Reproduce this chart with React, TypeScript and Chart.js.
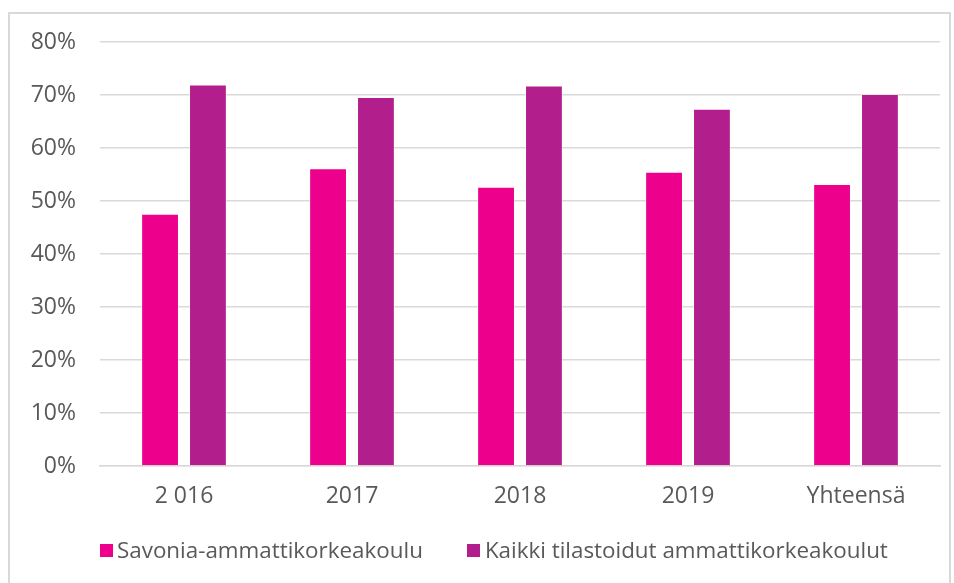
import React, { useEffect, useRef } from "react";
import { Chart, registerables } from "chart.js";

Chart.register(...registerables);

const categories = ["2 016", "2017", "2018", "2019", "Yhteensä"];
const savoniaValues = [47.6, 56.2, 52.7, 55.5, 53.2];
const kaikkiValues = [72.0, 69.6, 71.8, 67.4, 70.2];
const seriesNames = ["Savonia-ammattikorkeakoulu", "Kaikki tilastoidut ammattikorkeakoulut"];
const seriesColors = ["#EC008C", "#B31E8D"];
const yTicks = [0, 10, 20, 30, 40, 50, 60, 70, 80];

const FONT = "'Open Sans'";
const FS = 23;

const frame = {
  id: "frame",
  beforeDraw(chart: any) {
    const ctx = chart.ctx;
    ctx.save();
    ctx.fillStyle = "#ffffff";
    ctx.fillRect(0, 0, chart.width, chart.height);
    ctx.strokeStyle = "#D9D9D9";
    ctx.lineWidth = 2;
    ctx.strokeRect(9, 13, 941, 620);
    ctx.restore();
  },
};

export default function App() {
  const ref = useRef<HTMLCanvasElement>(null);
  useEffect(() => {
    if (!ref.current) return;
    const chart = new Chart(ref.current, {
      type: "bar",
      data: {
        labels: categories,
        datasets: [
          {
            label: seriesNames[0],
            data: savoniaValues,
            backgroundColor: seriesColors[0],
            borderColor: "rgba(255,255,255,0.35)",
            borderWidth: 1,
            categoryPercentage: 0.57,
            barPercentage: 0.79,
          },
          {
            label: seriesNames[1],
            data: kaikkiValues,
            backgroundColor: seriesColors[1],
            borderColor: "rgba(255,255,255,0.35)",
            borderWidth: 1,
            categoryPercentage: 0.57,
            barPercentage: 0.79,
          },
        ],
      },
      plugins: [frame],
      options: {
        animation: false,
        responsive: false,
        devicePixelRatio: 1,
        layout: { padding: { left: 0, top: 42, right: 14, bottom: 57 } },
        font: { family: FONT, size: FS },
        plugins: {
          tooltip: { enabled: false },
          legend: { display: false },
        },
        scales: {
          x: {
            grid: { display: false, drawTicks: false },
            border: { color: "#D9D9D9", width: 1.5 },
            ticks: {
              color: "#595959",
              padding: 17,
              font: { family: FONT, size: FS },
            },
            afterFit(scale: any) {
              scale.height = 60;
            },
          },
          y: {
            min: 0,
            max: 80,
            afterBuildTicks(scale: any) {
              scale.ticks = yTicks.map((v) => ({ value: v }));
            },
            grid: { color: "#D9D9D9", lineWidth: 1.5, drawTicks: false },
            border: { display: false },
            ticks: {
              color: "#595959",
              padding: 24,
              font: { family: FONT, size: FS },
              callback: (v: any) => `${v}%`,
            },
            afterFit(scale: any) {
              scale.width = 100;
            },
          },
        },
      },
    });
    return () => chart.destroy();
  }, []);
  return (
    <div style={{ position: "absolute", left: 0, top: 0, width: 954, height: 583, overflow: "hidden" }}>
      <canvas ref={ref} width={954} height={583} style={{ display: "block" }} />
      <div
        style={{
          position: "absolute",
          left: 100,
          top: 537,
          height: 26,
          display: "flex",
          alignItems: "center",
          fontFamily: FONT,
          fontSize: 22.4,
          color: "#595959",
          whiteSpace: "nowrap",
          lineHeight: "26px",
        }}
      >
        {seriesNames.map((name, i) => (
          <div key={name} style={{ display: "flex", alignItems: "center", marginLeft: i === 0 ? 0 : 44 }}>
            <span style={{ width: 13, height: 13, background: seriesColors[i], marginRight: i === 0 ? 4 : 5, display: "inline-block" }} />
            <span>{name}</span>
          </div>
        ))}
      </div>
    </div>
  );
}
